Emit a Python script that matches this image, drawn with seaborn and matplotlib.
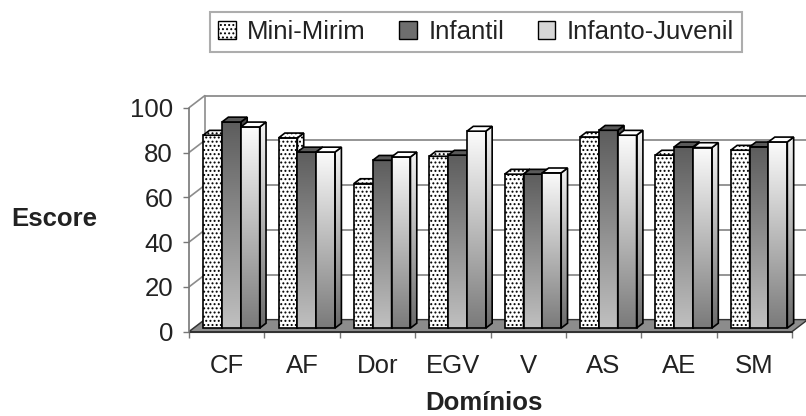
import numpy as np
import pandas as pd
import matplotlib
matplotlib.use('Agg')
import matplotlib.pyplot as plt
import seaborn as sns
from matplotlib.patches import Polygon, Patch
from matplotlib.colors import LinearSegmentedColormap

# dados
dominios = ['CF', 'AF', 'Dor', 'EGV', 'V', 'AS', 'AE', 'SM']
faixas = ['Mini-Mirim', 'Infantil', 'Infanto-Juvenil']
mini_mirim = [86.1, 84.9, 64.5, 76.7, 68.7, 85.3, 77.2, 79.4]
infantil = [92.0, 78.6, 74.9, 77.2, 68.7, 88.3, 80.9, 80.9]
infanto_juvenil = [89.8, 78.6, 76.4, 87.9, 69.3, 86.1, 80.6, 83.1]
y_ticks = [0, 20, 40, 60, 80, 100]

# geometria em pixels (figura 806x416)
W, H = 806, 416
X0_PX, X1_PX = 189, 792
Y0_PX, Y100_PX = 331.7, 107.7
DX, DY = 0.21, 5.4          # profundidade da parede do fundo
BAR_FRONT, BAR_BACK = 0.3, 0.7

WALL_GRAY = '#8c8c8c'
TEXT = '#222222'
FS = 18.5


def gradient_fill(ax, clip, extent, top, bottom, z):
    """Degrade vertical recortado pelo patch."""
    cmap = LinearSegmentedColormap.from_list('g', [top, bottom])
    grad = np.linspace(0, 1, 256).reshape(-1, 1)
    im = ax.imshow(grad, extent=extent, origin='upper', cmap=cmap,
                   aspect='auto', interpolation='bicubic', zorder=z)
    im.set_clip_path(clip)


def draw_walls(ax):
    floor = Polygon([(-0.5, 0), (7.5, 0), (7.5 + DX, DY), (-0.5 + DX, DY)],
                    closed=True, fc=WALL_GRAY, ec='#333333', lw=1, zorder=1)
    ax.add_patch(floor)
    for v in y_ticks:
        ax.plot([-0.5 + DX, 7.5 + DX], [v + DY, v + DY], color=WALL_GRAY, lw=1.3, zorder=0.5)
        ax.plot([-0.5, -0.5 + DX], [v, v + DY], color=WALL_GRAY, lw=1.2, zorder=0.6)
    ax.plot([-0.5 + DX, -0.5 + DX], [DY, 100 + DY], color=WALL_GRAY, lw=1.2, zorder=0.6)


def style_bars(ax):
    sx, sy = BAR_FRONT * DX, BAR_FRONT * DY
    bx, by = (BAR_BACK - BAR_FRONT) * DX, (BAR_BACK - BAR_FRONT) * DY
    bars = []
    for level, container in zip(faixas, ax.containers):
        for rect in container:
            bars.append((rect.get_x(), level, rect))
    bars.sort(key=lambda b: b[0])

    for i, (_, level, rect) in enumerate(bars):
        z = 3 + i
        x, w, h = rect.get_x() + sx, rect.get_width(), rect.get_height()
        y = sy
        rect.set_x(x)
        rect.set_y(y)
        rect.set_zorder(z + 0.2)
        top = Polygon([(x, y + h), (x + w, y + h), (x + w + bx, y + h + by), (x + bx, y + h + by)],
                      closed=True, ec='black', lw=1.2, zorder=z + 0.2)
        side = Polygon([(x + w, y), (x + w, y + h), (x + w + bx, y + h + by), (x + w + bx, y + by)],
                       closed=True, ec='black', lw=1.2, zorder=z + 0.2)
        ax.add_patch(side)
        ax.add_patch(top)
        ext = (x, x + w + bx, y, y + h + by)
        if level == 'Mini-Mirim':
            for p in (rect, side, top):
                p.set_facecolor('white')
                p.set_hatch('....')
        elif level == 'Infantil':
            rect.set_facecolor('none')
            side.set_facecolor('none')
            top.set_facecolor('#5a5a5a')
            gradient_fill(ax, rect, ext, '#5a5a5a', '#c0c0c0', z)
            gradient_fill(ax, side, ext, '#484848', '#989898', z)
        else:
            rect.set_facecolor('none')
            side.set_facecolor('none')
            top.set_facecolor('white')
            gradient_fill(ax, rect, ext, '#ffffff', '#7a7a7a', z)
            gradient_fill(ax, side, ext, '#f4f4f4', '#6a6a6a', z)


def main():
    sns.set_style('white')
    plt.rcParams['font.family'] = ['Liberation Sans', 'DejaVu Sans']
    plt.rcParams['hatch.linewidth'] = 0.9
    plt.rcParams['hatch.color'] = 'black'

    df = pd.DataFrame({
        'Domínio': dominios * 3,
        'Faixa': np.repeat(faixas, len(dominios)),
        'Escore': mini_mirim + infantil + infanto_juvenil,
    })

    xmin, xmax = -0.5, 7.5 + DX
    ymax = 100 + DY + 1.2
    px_cat = (X1_PX - X0_PX) / 8
    px_unit = (Y0_PX - Y100_PX) / 100

    fig = plt.figure(figsize=(W / 100, H / 100), dpi=100)
    ax = fig.add_axes([X0_PX / W, (H - Y0_PX) / H,
                       (xmax - xmin) * px_cat / W, ymax * px_unit / H])

    sns.barplot(data=df, x='Domínio', y='Escore', hue='Faixa', order=dominios,
                hue_order=faixas, width=0.75, edgecolor='black', linewidth=1.2,
                legend=False, ax=ax)
    draw_walls(ax)
    style_bars(ax)

    ax.set_xlim(xmin, xmax)
    ax.set_ylim(0, ymax)
    ax.set_xlabel('')
    ax.set_ylabel('')
    for s in ('top', 'right'):
        ax.spines[s].set_visible(False)
    ax.spines['left'].set_bounds(0, 100)
    ax.spines['left'].set_color('#777777')
    ax.spines['left'].set_linewidth(1.2)
    ax.spines['bottom'].set_bounds(-0.5, 7.5)
    ax.spines['bottom'].set_color('#333333')
    ax.spines['bottom'].set_zorder(2)

    ax.set_yticks(y_ticks)
    ax.set_yticklabels([str(v) for v in y_ticks], fontsize=FS, color=TEXT)
    ax.tick_params(axis='y', direction='out', length=4.5, width=1, color='#777777', pad=7, left=True)
    ax.set_xticks(range(len(dominios)))
    ax.set_xticklabels(dominios, fontsize=FS, color=TEXT)
    ax.set_xticks(np.arange(-0.5, 8, 1), minor=True)
    ax.tick_params(axis='x', which='major', length=0, pad=16)
    ax.tick_params(axis='x', which='minor', direction='out', length=4.5, width=1,
                   color='#777777', bottom=True)

    fig.text(54 / W, 1 - 219 / H, 'Escore', ha='center', va='center',
             fontsize=FS, fontweight='bold', color=TEXT)
    fig.text(484 / W, 1 - 403 / H, 'Domínios', ha='center', va='center',
             fontsize=FS, fontweight='bold', color=TEXT)

    handles = [
        Patch(facecolor='white', edgecolor='black', hatch='....'),
        Patch(facecolor='#6e6e6e', edgecolor='black'),
        Patch(facecolor='#d6d6d6', edgecolor='black'),
    ]
    leg = fig.legend(handles, faixas, loc='center', bbox_to_anchor=(476 / W, 1 - 32 / H),
                     ncol=3, fontsize=FS, frameon=True, fancybox=False,
                     handlelength=0.68, handleheight=0.68, handletextpad=0.45,
                     columnspacing=1.3, borderpad=0.3)
    leg.get_frame().set_edgecolor('#999999')
    leg.get_frame().set_linewidth(1.5)
    for t in leg.get_texts():
        t.set_color(TEXT)

    fig.savefig('out.png', dpi=100)
    plt.close(fig)


if __name__ == '__main__':
    main()
